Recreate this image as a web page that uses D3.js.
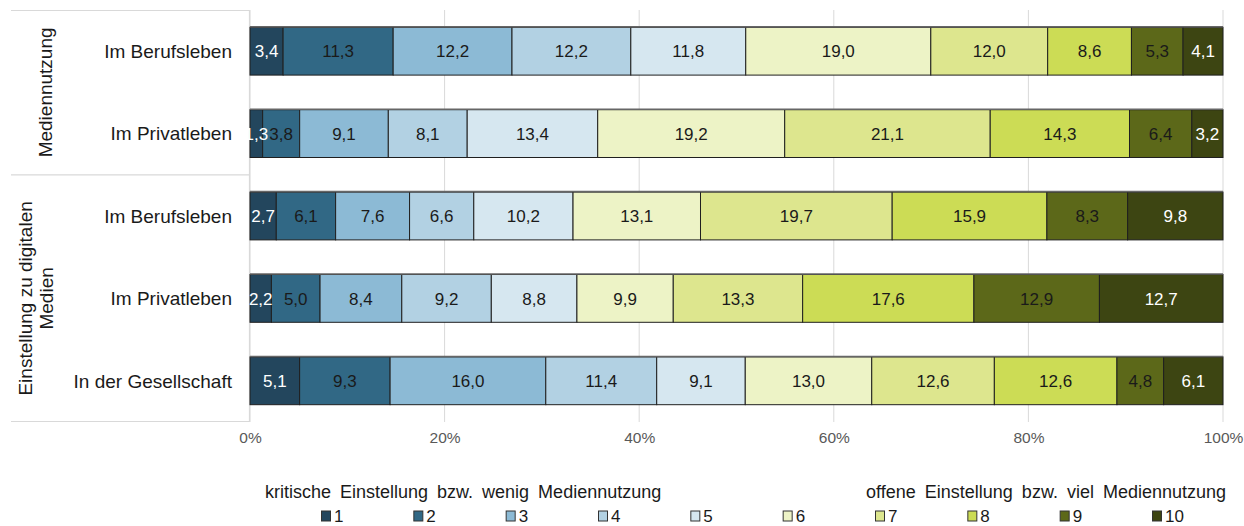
<!DOCTYPE html>
<html>
<head>
<meta charset="utf-8">
<script src="https://cdn.jsdelivr.net/npm/d3@7"></script>
<style>
  html, body { margin: 0; padding: 0; background: #fff; }
  svg { display: block; font-family: "Liberation Sans", Arial, sans-serif; }
</style>
</head>
<body>
<svg id="chart" width="1244" height="526"></svg>
<script>
// ---- data ----
const rowIds = ["m_beruf", "m_privat", "e_beruf", "e_privat", "e_gesell"];
const rowLabels = ["Im Berufsleben", "Im Privatleben", "Im Berufsleben", "Im Privatleben", "In der Gesellschaft"];
const groupNames = ["Mediennutzung", "Einstellung zu digitalen Medien"];
const groupRows = [["m_beruf", "m_privat"], ["e_beruf", "e_privat", "e_gesell"]];
const seriesKeys = ["1", "2", "3", "4", "5", "6", "7", "8", "9", "10"];
const valsMBeruf  = [3.4, 11.3, 12.2, 12.2, 11.8, 19.0, 12.0, 8.6, 5.3, 4.1];
const valsMPrivat = [1.3, 3.8, 9.1, 8.1, 13.4, 19.2, 21.1, 14.3, 6.4, 3.2];
const valsEBeruf  = [2.7, 6.1, 7.6, 6.6, 10.2, 13.1, 19.7, 15.9, 8.3, 9.8];
const valsEPrivat = [2.2, 5.0, 8.4, 9.2, 8.8, 9.9, 13.3, 17.6, 12.9, 12.7];
const valsEGesell = [5.1, 9.3, 16.0, 11.4, 9.1, 13.0, 12.6, 12.6, 4.8, 6.1];
const tickValues = [0, 0.2, 0.4, 0.6, 0.8, 1.0];
const legendLeftText = "kritische Einstellung bzw. wenig Mediennutzung";
const legendRightText = "offene Einstellung bzw. viel Mediennutzung";
const colors = ["#23465d", "#316885", "#8cbad5", "#b2d1e3", "#d6e7f0", "#edf3c6", "#dde68e", "#ccdc55", "#5c6819", "#3d4512"];
const whiteLabelKeys = ["1", "10"];

// ---- build table ----
const allVals = [valsMBeruf, valsMPrivat, valsEBeruf, valsEPrivat, valsEGesell];
const table = rowIds.map((id, i) => {
  const o = { id: id, label: rowLabels[i] };
  seriesKeys.forEach((k, j) => o[k] = allVals[i][j]);
  return o;
});

const svg = d3.select("#chart");
const x = d3.scaleLinear().domain([0, 1]).range([250, 1223]);
const y = d3.scaleBand().domain(rowIds).range([10, 422]).paddingInner(0.42).paddingOuter(0.21);
const color = d3.scaleOrdinal().domain(seriesKeys).range(colors);

const stacked = d3.stack().keys(seriesKeys).offset(d3.stackOffsetExpand)(table);

// gridlines
svg.append("g")
  .selectAll("line").data(tickValues).join("line")
  .attr("x1", d => x(d)).attr("x2", d => x(d))
  .attr("y1", 10).attr("y2", 422)
  .attr("stroke", "#d9d9d9").attr("stroke-width", 1);

// left panel box
const panel = svg.append("g").attr("stroke", "#d9d9d9").attr("stroke-width", 1.2);
panel.append("line").attr("x1", 11).attr("x2", x(0)).attr("y1", 10.5).attr("y2", 10.5);
panel.append("line").attr("x1", 11).attr("x2", x(0)).attr("y1", 421.5).attr("y2", 421.5);
const sepY = (y(groupRows[0][1]) + y.bandwidth() + y(groupRows[1][0])) / 2;
panel.append("line").attr("x1", 11).attr("x2", x(0)).attr("y1", sepY).attr("y2", sepY);
panel.append("line").attr("x1", x(0) - 0.5).attr("x2", x(0) - 0.5).attr("y1", 10).attr("y2", 422);

// bars
const layers = svg.append("g").selectAll("g").data(stacked).join("g")
  .attr("fill", d => color(d.key));
layers.selectAll("rect").data(d => d.map(p => Object.assign(p, { key: d.key }))).join("rect")
  .attr("x", d => x(d[0]))
  .attr("y", d => y(d.data.id))
  .attr("width", d => x(d[1]) - x(d[0]))
  .attr("height", y.bandwidth())
  .attr("stroke", "#1f1f1f")
  .attr("stroke-width", 1);

// top shadow line of bars
svg.append("g").selectAll("line").data(rowIds).join("line")
  .attr("x1", x(0)).attr("x2", x(1))
  .attr("y1", d => y(d) - 0.5).attr("y2", d => y(d) - 0.5)
  .attr("stroke", "#666").attr("stroke-width", 1.5);

// value labels
const fmt = v => d3.format(".1f")(v).replace(".", ",");
const labels = svg.append("g").attr("font-size", 17).attr("text-anchor", "middle");
stacked.forEach(layer => {
  labels.selectAll(null).data(layer).join("text")
    .attr("x", d => (x(d[0]) + x(d[1])) / 2)
    .attr("y", d => y(d.data.id) + y.bandwidth() / 2)
    .attr("dy", "0.36em")
    .attr("fill", whiteLabelKeys.includes(layer.key) ? "#ffffff" : "#1a1a1a")
    .text(d => fmt(d.data[layer.key]));
});

// category labels
svg.append("g").attr("font-size", 19).attr("text-anchor", "end").attr("fill", "#1a1a1a")
  .selectAll("text").data(table).join("text")
  .attr("x", 232)
  .attr("y", d => y(d.id) + y.bandwidth() / 2)
  .attr("dy", "0.36em")
  .text(d => d.label);

// group labels (rotated)
const g1y = (y(groupRows[0][0]) + y(groupRows[0][1]) + y.bandwidth()) / 2;
svg.append("text")
  .attr("transform", `translate(52,${g1y}) rotate(-90)`)
  .attr("text-anchor", "middle").attr("font-size", 19).attr("fill", "#1a1a1a")
  .text(groupNames[0]);
const g2y = (y(groupRows[1][0]) + y(groupRows[1][2]) + y.bandwidth()) / 2;
const g2 = svg.append("text")
  .attr("transform", `translate(32,${g2y}) rotate(-90)`)
  .attr("text-anchor", "middle").attr("font-size", 19).attr("fill", "#1a1a1a");
const g2words = groupNames[1].split(" ");
g2.append("tspan").attr("x", 0).attr("y", 0).text(g2words.slice(0, 3).join(" "));
g2.append("tspan").attr("x", 0).attr("y", 21).text(g2words.slice(3).join(" "));

// x axis
const axis = svg.append("g").attr("transform", "translate(0,432)")
  .call(d3.axisBottom(x).tickValues(tickValues).tickFormat(d3.format(".0%")).tickSize(0).tickPadding(0));
axis.select(".domain").remove();
axis.selectAll("text").attr("font-size", 15.5).attr("fill", "#595959")
  .attr("font-family", "'Liberation Sans', Arial, sans-serif").attr("dy", "0.71em");

// legend header texts
svg.append("text").attr("x", 265).attr("y", 498).attr("font-size", 18).attr("fill", "#1a1a1a")
  .attr("word-spacing", 4).text(legendLeftText);
svg.append("text").attr("x", 1226).attr("y", 498).attr("font-size", 18).attr("fill", "#1a1a1a")
  .attr("text-anchor", "end").attr("word-spacing", 4).text(legendRightText);

// legend items
const lx = d3.scalePoint().domain(seriesKeys).range([326, 1157]);
const li = svg.append("g").selectAll("g").data(seriesKeys).join("g")
  .attr("transform", d => `translate(${lx(d)},516)`);
li.append("rect").attr("x", -4.5).attr("y", -5).attr("width", 9).attr("height", 10)
  .attr("fill", d => color(d)).attr("stroke", "#333").attr("stroke-width", 1);
li.append("text").attr("x", 8).attr("y", 0).attr("dy", "0.36em")
  .attr("font-size", 17).attr("fill", "#1a1a1a").text(d => d);
</script>
</body>
</html>
